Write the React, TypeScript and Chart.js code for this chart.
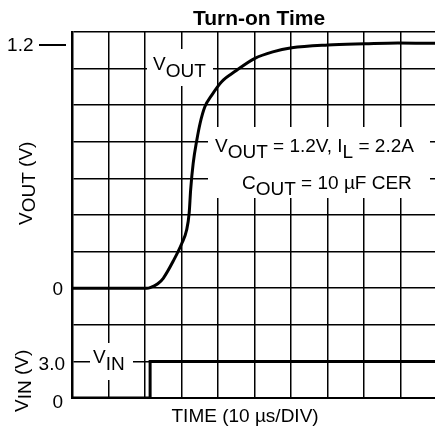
import React, { useEffect, useRef } from "react";
import { Chart, registerables } from "chart.js";

Chart.register(...registerables);

// ---- data ----
const voutTimeUs = [0, 20.5, 21.4, 23.5, 25.0, 27.8, 30.1, 31.4, 32.1, 32.5, 33.2, 34.2, 35.1, 36.4, 38.3, 41.0, 44.7, 50.1, 55.0, 60.2, 70.1, 80.3, 89.3, 100];
const voutVolts = [0, 0, 0.003, 0.022, 0.049, 0.136, 0.222, 0.287, 0.37, 0.484, 0.616, 0.731, 0.814, 0.895, 0.953, 1.019, 1.07, 1.134, 1.166, 1.186, 1.2, 1.206, 1.21, 1.208];

const vinTimeUs = [0, 21.4, 21.4, 100];
const vinVolts = [0, 0, 3.0, 3.0];

const voutTicks = [0, 1.2];
const voutTickLabels = ["0", "1.2"];
const vinTicks = [0, 3.0];
const vinTickLabels = ["0", "3.0"];

const titleText = "Turn-on Time";
const xTitle = "TIME (10 µs/DIV)";

// scale ranges (time: 10 µs per division, 10 divisions)
const X_MIN = 0;
const X_MAX = 100;
const VOUT_PER_DIV = 1.2 / 6.645;
const VOUT_MIN = -3 * VOUT_PER_DIV;
const VOUT_MAX = 7 * VOUT_PER_DIV;
const VIN_MIN = 0;
const VIN_MAX = 30;

const FONT = '"Liberation Sans", Arial, Helvetica, sans-serif';

type Seg = { t: string; sub?: boolean };

function drawSegs(ctx: CanvasRenderingContext2D, x: number, y: number, segs: Seg[], subOff: number) {
  let cx = x;
  for (const s of segs) {
    ctx.fillText(s.t, cx, s.sub ? y + subOff : y);
    cx += ctx.measureText(s.t).width;
  }
}

const annotPlugin = {
  id: "annot",
  beforeDatasetsDraw(chart: any) {
    const ctx: CanvasRenderingContext2D = chart.ctx;
    ctx.save();
    ctx.fillStyle = "#ffffff";
    ctx.fillRect(147, 49, 66, 37);
    ctx.fillRect(208, 127, 222, 71);
    ctx.fillRect(90, 343, 43, 37);
    ctx.restore();
  },
  afterDraw(chart: any) {
    const ctx: CanvasRenderingContext2D = chart.ctx;
    const yv = chart.scales.yv;
    const yin = chart.scales.yin;
    ctx.save();
    ctx.fillStyle = "#000";
    ctx.strokeStyle = "#000";
    ctx.textBaseline = "alphabetic";

    // title
    ctx.font = `bold 21px ${FONT}`;
    ctx.textAlign = "center";
    ctx.fillText(titleText, 259, 25);

    // tick labels
    ctx.font = `19px ${FONT}`;
    ctx.textAlign = "right";
    voutTicks.forEach((v, i) => {
      const y = yv.getPixelForValue(v);
      const isTop = i === voutTicks.length - 1;
      ctx.fillText(voutTickLabels[i], isTop ? 33.5 : 63, y + 6.5);
      if (isTop) {
        ctx.lineWidth = 2;
        ctx.beginPath();
        ctx.moveTo(39, y);
        ctx.lineTo(66, y);
        ctx.stroke();
      }
    });
    vinTicks.forEach((v, i) => {
      const y = yin.getPixelForValue(v);
      ctx.fillText(vinTickLabels[i], i === 0 ? 63 : 65, y + (i === 0 ? 10 : 8.5));
    });

    // x title
    ctx.textAlign = "left";
    ctx.fillText(xTitle, 171.5, 421.5);

    // annotations
    drawSegs(ctx, 153, 70, [{ t: "V" }, { t: "OUT", sub: true }], 7);
    drawSegs(ctx, 215, 152, [{ t: "V" }, { t: "OUT", sub: true }, { t: " = 1.2V, I" }, { t: "L", sub: true }, { t: " = 2.2A" }], 6);
    drawSegs(ctx, 242, 189, [{ t: "C" }, { t: "OUT", sub: true }, { t: " = 10 µF CER" }], 6);
    drawSegs(ctx, 93, 363, [{ t: "V" }, { t: "IN", sub: true }], 7);

    // rotated axis titles
    ctx.save();
    ctx.translate(32, 225);
    ctx.rotate(-Math.PI / 2);
    drawSegs(ctx, 0, 0, [{ t: "V" }, { t: "OUT", sub: true }, { t: " (V)" }], 3);
    ctx.restore();

    ctx.save();
    ctx.translate(28, 412);
    ctx.rotate(-Math.PI / 2);
    drawSegs(ctx, 0, 0, [{ t: "V" }, { t: "IN", sub: true }, { t: " (V)" }], 3);
    ctx.restore();

    ctx.restore();
  },
};

export default function App() {
  const ref = useRef<HTMLCanvasElement | null>(null);

  useEffect(() => {
    const canvas = ref.current;
    if (!canvas) return;
    const chart = new Chart(canvas, {
      type: "line",
      data: {
        datasets: [
          {
            label: "VOUT",
            data: voutTimeUs.map((t, i) => ({ x: t, y: voutVolts[i] })),
            yAxisID: "yv",
            borderColor: "#000",
            borderWidth: 3,
            pointRadius: 0,
            fill: false,
            cubicInterpolationMode: "monotone",
          },
          {
            label: "VIN",
            data: vinTimeUs.map((t, i) => ({ x: t, y: vinVolts[i] })),
            yAxisID: "yin",
            borderColor: "#000",
            borderWidth: 3,
            pointRadius: 0,
            fill: false,
            tension: 0,
          },
        ],
      },
      options: {
        animation: false,
        responsive: false,
        devicePixelRatio: 1,
        layout: { padding: { top: 32, right: 10, left: 72, bottom: 0 } },
        plugins: {
          legend: { display: false },
          tooltip: { enabled: false },
          title: { display: false },
        },
        scales: {
          x: {
            type: "linear",
            min: X_MIN,
            max: X_MAX,
            position: "bottom",
            ticks: { display: false, stepSize: 10 },
            grid: { color: "#000", lineWidth: 1.5, drawTicks: false },
            border: { display: true, color: "#000", width: 2 },
            afterFit: (s: any) => {
              s.height = 30;
            },
          },
          yg: {
            type: "linear",
            min: 0,
            max: 10,
            position: "left",
            ticks: { display: false, stepSize: 1 },
            grid: { color: "#000", lineWidth: 1.5, drawTicks: false },
            border: { display: true, color: "#000", width: 2.5 },
            afterFit: (s: any) => {
              s.width = 0;
            },
          },
          yv: { type: "linear", display: false, min: VOUT_MIN, max: VOUT_MAX },
          yin: { type: "linear", display: false, min: VIN_MIN, max: VIN_MAX },
        },
      } as any,
      plugins: [annotPlugin],
    });
    return () => chart.destroy();
  }, []);

  return (
    <div
      style={{
        position: "fixed",
        left: 0,
        top: 0,
        width: 435,
        height: 428,
        overflow: "hidden",
        background: "#fff",
      }}
    >
      <canvas ref={ref} width={447} height={428} style={{ width: 447, height: 428, display: "block" }} />
    </div>
  );
}
